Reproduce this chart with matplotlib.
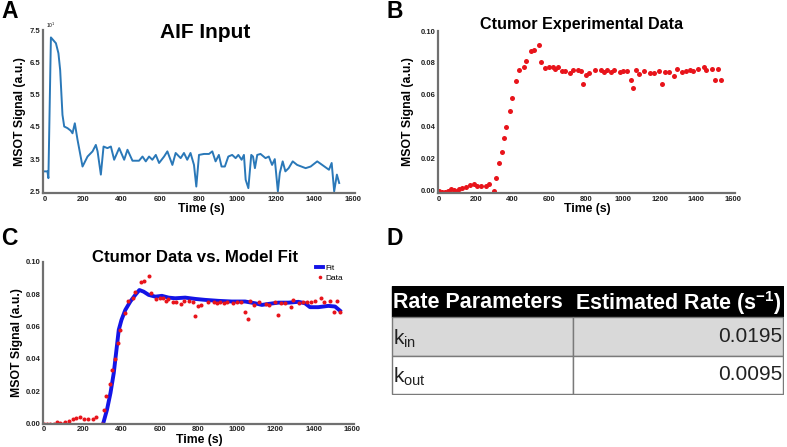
import matplotlib
matplotlib.use("Agg")
import matplotlib.pyplot as plt
import numpy as np
from matplotlib.patches import Rectangle

plt.rcParams['font.family'] = ['Liberation Sans', 'DejaVu Sans']

# AIF input curve
aif_time = [0, 15, 20, 33, 59, 72, 81, 93, 102, 119, 136, 145, 157, 171, 197, 223, 249, 266,
            275, 292, 306, 326, 344, 361, 387, 413, 430, 456, 490, 508, 525, 542, 559, 577,
            594, 620, 637, 663, 680, 706, 723, 740, 757, 775, 787, 801, 827, 853, 870, 887,
            904, 918, 935, 953, 973, 991, 1005, 1022, 1034, 1043, 1057, 1072, 1081, 1091,
            1103, 1120, 1146, 1163, 1180, 1194, 1210, 1220, 1235, 1249, 1266, 1287, 1310,
            1354, 1380, 1414, 1440, 1475, 1489, 1502, 1516, 1528]
aif_signal = [3.12, 3.12, 2.91, 7.27, 7.09, 6.78, 6.26, 4.87, 4.51, 4.46, 4.38, 4.30, 4.61,
              4.10, 3.27, 3.58, 3.74, 3.94, 3.74, 3.02, 3.89, 3.84, 3.89, 3.48, 3.84, 3.48,
              3.79, 3.45, 3.45, 3.58, 3.43, 3.58, 3.48, 3.63, 3.38, 3.58, 3.74, 3.32, 3.69,
              3.53, 3.69, 3.48, 3.69, 3.32, 2.65, 3.63, 3.66, 3.66, 3.74, 3.43, 3.63, 3.27,
              3.27, 3.58, 3.63, 3.53, 3.63, 3.48, 3.63, 2.86, 2.60, 3.63, 3.58, 3.22, 3.63,
              3.66, 3.53, 3.58, 3.32, 3.50, 2.50, 3.07, 3.43, 3.12, 3.22, 3.43, 3.32, 3.22,
              3.27, 3.43, 3.32, 3.17, 3.38, 2.50, 3.02, 2.76]

# Ctumor experimental data
tumor_time = [0, 13, 31, 49, 67, 81, 97, 108, 126, 148, 166, 188, 206, 226, 253, 271, 298,
              310, 323, 341, 352, 365, 383, 395, 419, 433, 460, 473, 500, 518, 542, 554, 578,
              599, 617, 632, 644, 671, 684, 711, 726, 753, 771, 785, 798, 816, 848, 879, 897,
              915, 933, 951, 982, 1000, 1024, 1042, 1056, 1069, 1090, 1114, 1150, 1168, 1199,
              1213, 1231, 1249, 1280, 1294, 1321, 1343, 1363, 1384, 1408, 1439, 1453, 1484,
              1502, 1520, 1534]
tumor_signal = [0.0000, -0.0006, -0.0006, 0.0000, 0.0008, 0.0004, 0.0000, 0.0010, 0.0015,
                0.0025, 0.0036, 0.0040, 0.0030, 0.0030, 0.0030, 0.0040, 0.0000, 0.0082,
                0.0172, 0.0245, 0.0330, 0.0400, 0.0500, 0.0580, 0.0686, 0.0755, 0.0776,
                0.0810, 0.0874, 0.0878, 0.0912, 0.0807, 0.0770, 0.0776, 0.0774, 0.0759,
                0.0772, 0.0748, 0.0748, 0.0738, 0.0755, 0.0755, 0.0748, 0.0665, 0.0727,
                0.0734, 0.0753, 0.0753, 0.0742, 0.0753, 0.0742, 0.0753, 0.0742, 0.0748,
                0.0748, 0.0690, 0.0644, 0.0755, 0.0732, 0.0748, 0.0738, 0.0734, 0.0748,
                0.0669, 0.0742, 0.0742, 0.0721, 0.0765, 0.0742, 0.0748, 0.0753, 0.0748,
                0.0759, 0.0774, 0.0753, 0.0759, 0.0690, 0.0759, 0.0692]

# Model fit
fit_time = [306, 326, 344, 361, 373, 387, 401, 421, 447, 473, 494, 516, 542, 577, 611, 646,
            680, 732, 784, 836, 905, 974, 1043, 1095, 1130, 1164, 1216, 1268, 1320, 1354,
            1380, 1423, 1475, 1510, 1535]
fit_signal = [0.000, 0.0086, 0.0189, 0.0312, 0.0435, 0.0579, 0.064, 0.0702, 0.0754, 0.0795,
              0.0825, 0.0815, 0.0795, 0.0784, 0.0789, 0.0778, 0.0774, 0.0778, 0.077, 0.0764,
              0.0758, 0.0754, 0.0754, 0.0743, 0.0733, 0.0739, 0.0747, 0.0747, 0.0752,
              0.0743, 0.0719, 0.0719, 0.0727, 0.0723, 0.0698]

# Rate table
table_header = ["Rate Parameters", "Estimated Rate (s$^{\\mathregular{-1}}$)"]
rate_names = ["$\\mathregular{k_{in}}$", "$\\mathregular{k_{out}}$"]
rate_values = ["0.0195", "0.0095"]

W, H = 787, 447
fig = plt.figure(figsize=(W / 100, H / 100), dpi=100)

spine_col = '#707070'
red = '#e8141b'


def fr(x0, y0, x1, y1):
    # pixel box -> figure fraction [left, bottom, width, height]
    return [x0 / W, 1 - y1 / H, (x1 - x0) / W, (y1 - y0) / H]


def style_axes(ax):
    for s in ['top', 'right']:
        ax.spines[s].set_visible(False)
    for s in ['left', 'bottom']:
        ax.spines[s].set_color(spine_col)
        ax.spines[s].set_linewidth(1.6)
    ax.tick_params(length=0, pad=1.8, labelsize=5.5, labelcolor='#222222')
    ax.set_xticks(np.arange(0, 1601, 200))
    ax.set_xlim(-8, 1610)
    for lab in ax.get_xticklabels() + ax.get_yticklabels():
        lab.set_fontweight('bold')


lab_kw = dict(fontsize=8.8, fontweight='bold')

# Panel A
axA = fig.add_axes(fr(43, 30, 355, 193))
axA.plot(aif_time, aif_signal, color='#2a78b8', lw=1.4)
axA.set_ylim(2.45, 7.5)
axA.set_yticks([2.5, 3.5, 4.5, 5.5, 6.5, 7.5])
axA.set_yticklabels(['2.5', '3.5', '4.5', '5.5', '6.5', '7.5'])
style_axes(axA)
fig.text(46 / W, 1 - 25 / H, '10$^{1}$', fontsize=3.5, va='center')

# Panel B
axB = fig.add_axes(fr(437.7, 31, 735, 193))
axB.plot(tumor_time, tumor_signal, 'o', color=red, ms=3.6, mec='none')
axB.set_ylim(-0.0015, 0.1)
axB.set_yticks(np.arange(0, 0.101, 0.02))
axB.set_yticklabels(['%.2f' % v for v in np.arange(0, 0.101, 0.02)])
style_axes(axB)

# Panel C
axC = fig.add_axes(fr(42.7, 261.7, 354.3, 424))
axC.plot(fit_time, fit_signal, color='#1414e6', lw=2.8, label='Fit')
axC.plot(tumor_time, tumor_signal, 'o', color=red, ms=2.9, mec='none', label='Data')
axC.set_ylim(-0.0003, 0.1)
axC.set_yticks(np.arange(0, 0.101, 0.02))
axC.set_yticklabels(['%.2f' % v for v in np.arange(0, 0.101, 0.02)])
style_axes(axC)
axC.tick_params(axis='x', pad=1.2)
axC.legend(loc='upper right', bbox_to_anchor=(0.975, 1.005), frameon=False, fontsize=6,
           handlelength=0.8, handletextpad=0.3, labelspacing=0.2, borderaxespad=0,
           markerscale=0.9)

# titles / axis labels in pixel positions
fig.text(205 / W, 1 - 33 / H, 'AIF Input', fontsize=15, fontweight='bold', ha='center', va='center')
fig.text(582 / W, 1 - 25 / H, 'Ctumor Experimental Data', fontsize=11.6, fontweight='bold',
         ha='center', va='center')
fig.text(195 / W, 1 - 257 / H, 'Ctumor Data vs. Model Fit', fontsize=12.1, fontweight='bold',
         ha='center', va='center')

fig.text(201 / W, 1 - 209 / H, 'Time (s)', ha='center', va='center', **lab_kw)
fig.text(587 / W, 1 - 209 / H, 'Time (s)', ha='center', va='center', **lab_kw)
fig.text(199 / W, 1 - 440 / H, 'Time (s)', ha='center', va='center', **lab_kw)
fig.text(20 / W, 1 - 112 / H, 'MSOT Signal (a.u.)', rotation=90, ha='center', va='center', **lab_kw)
fig.text(408 / W, 1 - 112 / H, 'MSOT Signal (a.u.)', rotation=90, ha='center', va='center', **lab_kw)
fig.text(17 / W, 1 - 343 / H, 'MSOT Signal (a.u.)', rotation=90, ha='center', va='center', **lab_kw)

for letter, x, y in [('A', 10, 12), ('B', 395, 12), ('C', 9, 238), ('D', 395, 238)]:
    fig.text(x / W, 1 - y / H, letter, fontsize=16.5, fontweight='bold', ha='center', va='center')

# Panel D: table
axD = fig.add_axes(fr(391, 285.5, 784, 394.5))
axD.set_xlim(391, 784)
axD.set_ylim(394.5, 285.5)
axD.axis('off')
x_left, x_mid, x_right = 392, 573, 783
y_top, hdr_h, row_h = 286, 31.5, 38.3
grid_col = '#7a7a7a'

axD.add_patch(Rectangle((x_left, y_top), x_right - x_left, hdr_h, facecolor='black',
                        edgecolor='black', lw=1))
axD.text(x_left + 1, y_top + hdr_h / 2 + 1, table_header[0], color='white', fontsize=15.5,
         fontweight='bold', va='center', ha='left')
axD.text(x_mid + 2, y_top + hdr_h / 2 + 1, table_header[1], color='white', fontsize=15.5,
         fontweight='bold', va='center', ha='left')

row_colors = ['#d9d9d9', 'white']
for i, (name, val) in enumerate(zip(rate_names, rate_values)):
    y0 = y_top + hdr_h + i * row_h
    axD.add_patch(Rectangle((x_left, y0), x_mid - x_left, row_h, facecolor=row_colors[i],
                            edgecolor=grid_col, lw=1))
    axD.add_patch(Rectangle((x_mid, y0), x_right - x_mid, row_h, facecolor=row_colors[i],
                            edgecolor=grid_col, lw=1))
    axD.text(x_left + 1, y0 + row_h / 2 + 2, name, fontsize=15, va='center', ha='left',
             color='#222222')
    axD.text(x_right - 1, y0 + row_h / 2, val, fontsize=15, va='center', ha='right',
             color='#222222')

fig.savefig('out.png', dpi=100)
